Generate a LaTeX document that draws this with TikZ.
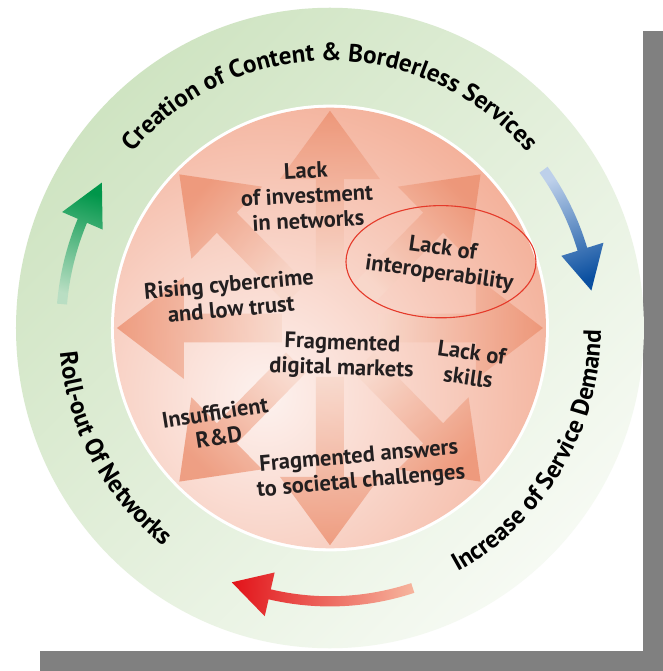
\documentclass[tikz,border=0pt]{standalone}
\usepackage{fontspec}
\setmainfont{PT Sans}
\usetikzlibrary{calc,decorations.text}
\definecolor{ink}{HTML}{231F20}
\definecolor{shadowgray}{HTML}{808080}
\definecolor{ringA}{HTML}{CFE4C2}
\definecolor{ringB}{HTML}{F6FAF3}
\definecolor{diskA}{HTML}{FDF2EF}
\definecolor{diskB}{HTML}{F3AD95}
\definecolor{spokedark}{HTML}{EC9070}
\definecolor{spokelight}{HTML}{F8D8CB}
\definecolor{ovalred}{HTML}{E53A2A}
\definecolor{greendark}{HTML}{00964A}
\definecolor{greenlight}{HTML}{B9DEC3}
\definecolor{bluedark}{HTML}{0A4FA0}
\definecolor{bluelight}{HTML}{BDD0EA}
\definecolor{reddark}{HTML}{E2161C}
\definecolor{redlight}{HTML}{F6B39C}
\newcommand\ringfont{\bfseries\fontsize{25}{25}\selectfont}
\begin{document}
\begin{tikzpicture}[x=1pt, y=1.02pt, line join=round,
    lbl/.style={font=\bfseries\fontsize{22.5}{25}\selectfont, align=center, text=ink},
    spoke/.style={top color=spokedark, bottom color=spokelight, opacity=.8}]
	\def\rout{314} % outer ring
	\def\rin{216}
	\useasboundingbox (-330,-336.3) rectangle (333,321.6);
	\fill[shadowgray] (-290,-336.3) rectangle (333,291.2);
	\fill[white] (-330,-316.7) rectangle (313,321.6);
	\shade[top color=ringA, bottom color=ringB, shading angle=45] (0,0) circle[radius=\rout];
	\fill[white] (0,0) circle[radius=\rin+3];
	\begin{scope}
		\clip (0,0) circle[radius=\rin];
		\shade[inner color=diskA, outer color=diskB] (-65,-66) circle[radius=330];
	\end{scope}
	\foreach \a in {0,45,...,315}{
		\pgfmathsetmacro\sa{\a-90}
		\shade[spoke, shading angle=\sa] ($(\a:48)+(\a+90:14)$) -- ($(\a:146)+(\a+90:14)$) -- ($(\a:146)+(\a+90:50)$) -- (\a:213) -- ($(\a:146)+(\a-90:50)$) -- ($(\a:146)+(\a-90:14)$) -- ($(\a:48)+(\a-90:14)$) -- cycle;
	}
	\node[lbl, rotate=3] (invest) at (-23,130) {Lack\\of investment\\in networks};
	\node[lbl, rotate=-8] (interop) at (111,65) {Lack of\\interoperability};
	\draw[ovalred, line width=1.1pt] (interop) ellipse[x radius=95, y radius=55];
	\node[lbl, rotate=5] (cyber) at (-100,31) {Rising cybercrime\\and low trust};
	\node[lbl, rotate=-2] (digital) at (12,-28) {Fragmented\\digital markets};
	\node[lbl, rotate=-8] (skills) at (140,-36) {Lack of\\skills};
	\node[lbl, rotate=9] (rnd) at (-113,-95) {Insufficient\\R\&D};
	\node[lbl, rotate=5] (answers) at (30,-139) {Fragmented answers\\to societal challenges};
	% ring arrows
	\shade[top color=greendark, bottom color=greenlight, shading angle=-17] (175:264) arc[start angle=175, end angle=157, radius=264] -- (157:247) -- (148:269) -- (157:291) -- (157:274) arc[start angle=157, end angle=175, radius=274] -- cycle;
	\shade[top color=bluedark, bottom color=bluelight, shading angle=-159] (36:259) arc[start angle=36, end angle=17, radius=259] -- (17:242) -- (8:264) -- (17:286) -- (17:269) arc[start angle=17, end angle=36, radius=269] -- cycle;
	\shade[top color=reddark, bottom color=redlight, shading angle=87] (-72:263) arc[start angle=-72, end angle=-103, radius=263] -- (-103:246) -- (-111.5:268) -- (-103:290) -- (-103:273) arc[start angle=-103, end angle=-72, radius=273] -- cycle;
	\path[decorate, decoration={text along path, text align=center, text={|\ringfont|Creation of Content {\&} Borderless Services}}] (180:262) arc[start angle=180, end angle=0, radius=262];
	\path[decorate, decoration={text along path, text align=center, text={|\ringfont|Increase of Service Demand}}] (-100:271) arc[start angle=-100, end angle=37, radius=271];
	\path[decorate, decoration={text along path, text align=center, text={|\ringfont|Roll-out Of Networks}}] (140:271) arc[start angle=140, end angle=278, radius=271];
\end{tikzpicture}
\end{document}
